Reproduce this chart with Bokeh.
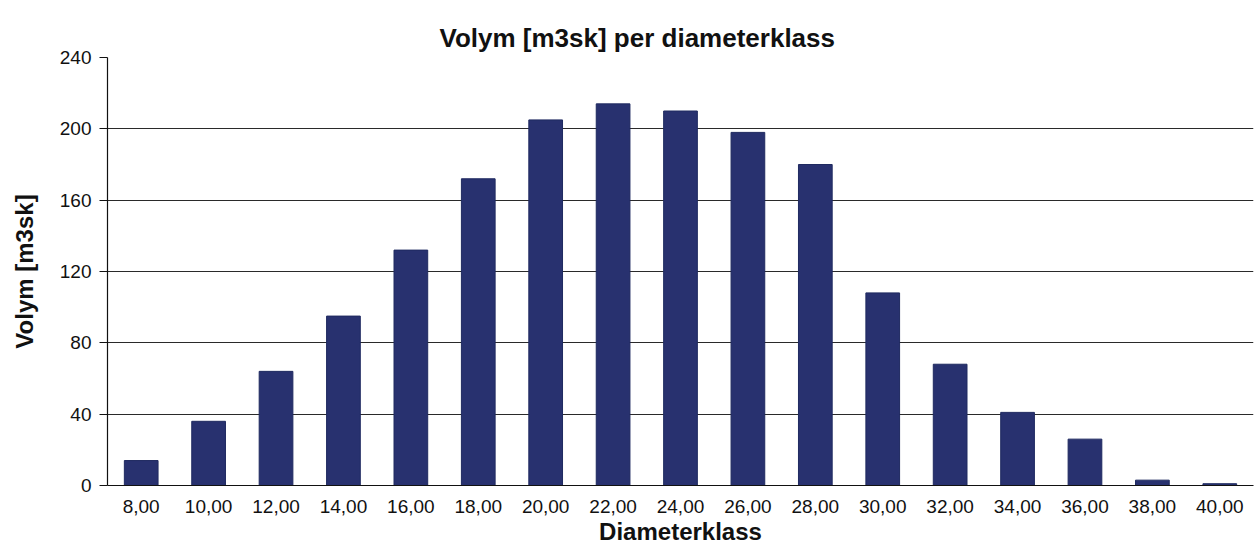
from bokeh.plotting import figure
from bokeh.models import ColumnDataSource, FactorRange, Range1d, FixedTicker, Title
from bokeh.embed import file_html
from bokeh.resources import INLINE

diameter_classes = ["8,00", "10,00", "12,00", "14,00", "16,00", "18,00", "20,00", "22,00",
                    "24,00", "26,00", "28,00", "30,00", "32,00", "34,00", "36,00", "38,00", "40,00"]
volume_m3sk = [14, 36, 64, 95, 132, 172, 205, 214, 210, 198, 180, 108, 68, 41, 26, 3, 1]
y_ticks = [0, 40, 80, 120, 160, 200, 240]
title_text = "Volym [m3sk] per diameterklass"

FONT = "Liberation Sans"

src = ColumnDataSource(dict(x=diameter_classes, y=volume_m3sk))

p = figure(width=1258, height=549, output_backend="svg", toolbar_location=None,
           x_range=FactorRange(*diameter_classes, range_padding=0),
           y_range=Range1d(0, 240),
           min_border_left=107, min_border_right=5, min_border_top=57, min_border_bottom=64,
           title=None)

p.add_layout(Title(text=title_text, text_font=FONT, text_font_size="26px",
                   text_font_style="bold", text_color="#111111", align="left", offset=332,
                   standoff=10), "above")

p.vbar(x="x", top="y", width=0.5, source=src, fill_color="#28316f", line_color="#1f2a60",
       line_width=1)

p.outline_line_color = None
p.background_fill_color = "white"
p.border_fill_color = "white"

p.xgrid.grid_line_color = None
p.ygrid.grid_line_color = "#2a2a2a"
p.ygrid.grid_line_width = 1
p.yaxis.ticker = FixedTicker(ticks=y_ticks)

for ax in (p.xaxis[0], p.yaxis[0]):
    ax.axis_line_color = "#111111"
    ax.axis_line_width = 1.2
    ax.major_label_text_font = FONT
    ax.major_label_text_font_size = "19px"
    ax.major_label_text_color = "#111111"
    ax.axis_label_text_font = FONT
    ax.axis_label_text_font_size = "24px"
    ax.axis_label_text_font_style = "bold"
    ax.axis_label_text_color = "#111111"
    ax.minor_tick_line_color = None

p.xaxis.axis_label = "Diameterklass"
p.xaxis.major_tick_line_color = None
p.xaxis.major_tick_out = 0
p.xaxis.major_label_standoff = 14
p.xaxis.axis_label_standoff = 2

p.yaxis.axis_label = "Volym [m3sk]"
p.yaxis.major_tick_line_color = "#111111"
p.yaxis.major_tick_out = 8
p.yaxis.major_tick_in = 0
p.yaxis.major_label_standoff = 8
p.yaxis.axis_label_standoff = 19

open("out.html", "w").write(file_html(p, INLINE))
